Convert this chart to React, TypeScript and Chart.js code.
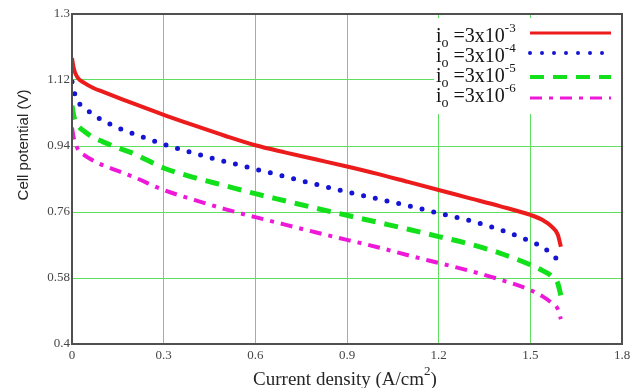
import React, { useEffect, useRef } from "react";
import { Chart, registerables } from "chart.js";

Chart.register(...registerables);

// Current density (A/cm^2) sample points shared by all four polarization curves
const currentDensity = [
  0, 0.005, 0.01, 0.02, 0.04, 0.07, 0.1, 0.15, 0.2, 0.3, 0.4, 0.5, 0.6, 0.7, 0.8,
  0.9, 1.0, 1.1, 1.2, 1.3, 1.4, 1.5, 1.54, 1.57, 1.59, 1.6,
];

// Cell potential (V) for each exchange current density
const potentialIo3 = [
  1.18, 1.155, 1.14, 1.125, 1.112, 1.098, 1.088, 1.072, 1.056, 1.025, 0.996, 0.968,
  0.942, 0.922, 0.903, 0.884, 0.864, 0.842, 0.82, 0.798, 0.776, 0.752, 0.738, 0.72,
  0.698, 0.665,
];
const potentialIo4 = [
  1.115, 1.095, 1.08, 1.06, 1.045, 1.025, 1.01, 0.99, 0.974, 0.945, 0.92, 0.898,
  0.877, 0.856, 0.835, 0.815, 0.796, 0.777, 0.757, 0.737, 0.712, 0.68, 0.664, 0.645,
  0.627, 0.608,
];
const potentialIo5 = [
  1.05, 1.025, 1.01, 0.995, 0.98, 0.963, 0.952, 0.935, 0.92, 0.88, 0.854, 0.832,
  0.81, 0.79, 0.77, 0.751, 0.732, 0.713, 0.693, 0.673, 0.648, 0.616, 0.6, 0.585,
  0.565, 0.532,
];
const potentialIo6 = [
  0.99, 0.965, 0.95, 0.93, 0.915, 0.9, 0.888, 0.872, 0.856, 0.82, 0.793, 0.768,
  0.746, 0.725, 0.704, 0.684, 0.664, 0.642, 0.621, 0.6, 0.576, 0.547, 0.53, 0.512,
  0.495, 0.468,
];

// Exponent shown in each legend entry: i_o = 3x10^exp
const ioExponents = ["-3", "-4", "-5", "-6"];

// Axis ticks
const xTickValues = [0, 0.3, 0.6, 0.9, 1.2, 1.5, 1.8];
const xTickLabels = ["0", "0.3", "0.6", "0.9", "1.2", "1.5", "1.8"];
const yTickValues = [0.4, 0.58, 0.76, 0.94, 1.12, 1.3];
const yTickLabels = ["0.4", "0.58", "0.76", "0.94", "1.12", "1.3"];

const seriesStyles = [
  { color: "#ec1c1c", width: 4, dash: [] as number[], cap: "butt" as CanvasLineCap },
  { color: "#1414d2", width: 5, dash: [0, 12], cap: "round" as CanvasLineCap },
  { color: "#12e01a", width: 5, dash: [14, 9], cap: "butt" as CanvasLineCap },
  { color: "#ee18d8", width: 4, dash: [12, 7, 4, 7], cap: "butt" as CanvasLineCap },
];

const SERIF = '"Liberation Serif", "Times New Roman", serif';
const SANS = '"Liberation Sans", Arial, sans-serif';

const framePlugin = {
  id: "plotFrame",
  afterDatasetsDraw(chart: any) {
    const { ctx, chartArea } = chart;
    const { left, top, right, bottom } = chartArea;
    ctx.save();

    // legend box covering the grid in the upper-right corner
    const boxLeft = 434;
    const boxTop = 18;
    ctx.fillStyle = "#ffffff";
    ctx.fillRect(boxLeft, boxTop, right - boxLeft - 1, 96);

    const baselines = [42, 62, 82, 102];
    const sampleY = [33, 53, 77, 98];
    ctx.fillStyle = "#141414";
    ctx.textBaseline = "alphabetic";
    ctx.textAlign = "left";
    ioExponents.forEach((exp, i) => {
      const x0 = 436;
      const b = baselines[i];
      ctx.font = `20px ${SERIF}`;
      ctx.fillText("i", x0, b);
      let w = ctx.measureText("i").width;
      ctx.font = `14px ${SERIF}`;
      ctx.fillText("o", x0 + w, b + 5);
      w += ctx.measureText("o").width;
      ctx.font = `20px ${SERIF}`;
      ctx.fillText(" =3x10", x0 + w, b);
      w += ctx.measureText(" =3x10").width;
      ctx.font = `13px ${SERIF}`;
      ctx.fillText(exp, x0 + w, b - 10);

      const st = seriesStyles[i];
      ctx.beginPath();
      ctx.strokeStyle = st.color;
      ctx.lineWidth = i === 0 ? 3 : st.width - 1;
      ctx.lineCap = st.cap;
      ctx.setLineDash(st.dash);
      ctx.moveTo(530, sampleY[i]);
      ctx.lineTo(611, sampleY[i]);
      ctx.stroke();
    });
    ctx.setLineDash([]);

    // plot frame
    ctx.strokeStyle = "#505050";
    ctx.lineWidth = 2;
    ctx.strokeRect(left, top, right - left, bottom - top);

    // axis titles
    ctx.fillStyle = "#262626";
    ctx.font = `15px ${SANS}`;
    ctx.textAlign = "center";
    ctx.textBaseline = "middle";
    ctx.save();
    ctx.translate(24, 145);
    ctx.rotate(-Math.PI / 2);
    ctx.fillText("Cell potential (V)", 0, 0);
    ctx.restore();

    ctx.textAlign = "left";
    ctx.textBaseline = "alphabetic";
    ctx.font = `19px ${SERIF}`;
    const main = "Current density (A/cm";
    ctx.font = `13px ${SERIF}`;
    const supW = ctx.measureText("2").width;
    ctx.font = `19px ${SERIF}`;
    const mainW = ctx.measureText(main).width;
    const closeW = ctx.measureText(")").width;
    const total = mainW + supW + closeW;
    const startX = 345 - total / 2;
    const base = 385;
    ctx.fillText(main, startX, base);
    ctx.fillText(")", startX + mainW + supW, base);
    ctx.font = `13px ${SERIF}`;
    ctx.fillText("2", startX + mainW, base - 10);

    ctx.restore();
  },
};

export default function App() {
  const canvasRef = useRef<HTMLCanvasElement | null>(null);

  useEffect(() => {
    if (!canvasRef.current) return;
    const series = [potentialIo3, potentialIo4, potentialIo5, potentialIo6];
    const chart = new Chart(canvasRef.current, {
      type: "line",
      data: {
        datasets: series.map((values, i) => ({
          label: `i_o=3x10^${ioExponents[i]}`,
          data: currentDensity.map((x, k) => ({ x, y: values[k] })),
          borderColor: seriesStyles[i].color,
          borderWidth: seriesStyles[i].width,
          borderDash: seriesStyles[i].dash,
          borderCapStyle: seriesStyles[i].cap,
          borderJoinStyle: "round",
          pointRadius: 0,
          fill: false,
          cubicInterpolationMode: "monotone",
        })),
      },
      options: {
        responsive: false,
        animation: false,
        layout: { padding: { top: 14, right: 22, left: 0, bottom: 0 } },
        plugins: {
          legend: { display: false },
          tooltip: { enabled: false },
          title: { display: false },
        },
        scales: {
          x: {
            type: "linear",
            min: 0,
            max: 1.8,
            afterBuildTicks: (scale: any) => {
              scale.ticks = xTickValues.map((v) => ({ value: v }));
            },
            afterFit: (scale: any) => {
              scale.height = 44;
            },
            ticks: {
              autoSkip: false,
              maxRotation: 0,
              padding: 4,
              color: "#454545",
              font: { family: SERIF, size: 13 },
              callback: (_v: any, i: number) => xTickLabels[i],
            },
            grid: { color: "#5ee05e", lineWidth: 1, drawTicks: false },
            border: { display: false },
          },
          y: {
            type: "linear",
            min: 0.4,
            max: 1.3,
            afterBuildTicks: (scale: any) => {
              scale.ticks = yTickValues.map((v) => ({ value: v }));
            },
            afterFit: (scale: any) => {
              scale.width = 72;
            },
            ticks: {
              autoSkip: false,
              padding: 2,
              color: "#454545",
              font: { family: SERIF, size: 13 },
              callback: (_v: any, i: number) => yTickLabels[i],
            },
            grid: { color: "#5ee05e", lineWidth: 1, drawTicks: false },
            border: { display: false },
          },
        },
      },
      plugins: [framePlugin],
    });
    return () => chart.destroy();
  }, []);

  return (
    <div style={{ position: "fixed", left: 0, top: 0, width: 644, height: 388, background: "#fff" }}>
      <canvas ref={canvasRef} width={644} height={388} style={{ display: "block" }} />
    </div>
  );
}
